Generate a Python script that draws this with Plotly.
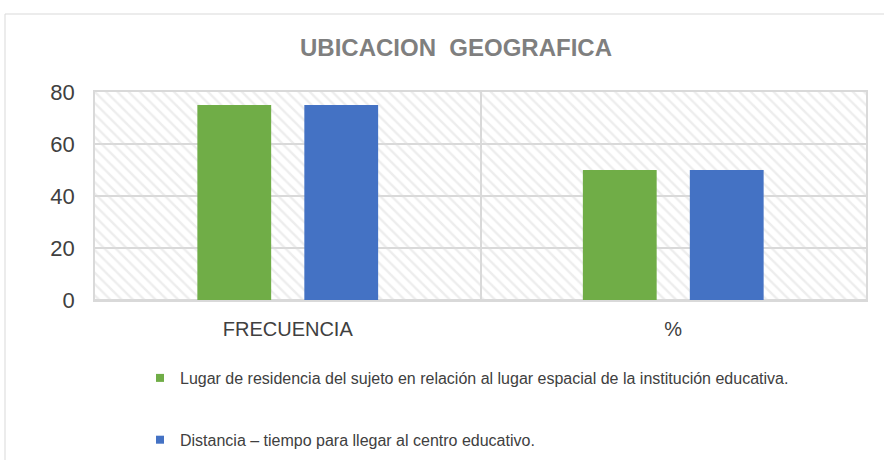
import plotly.graph_objects as go

# --- data ---
categorias = ["FRECUENCIA", "%"]
serie_lugar = [75, 50]
serie_distancia = [75, 50]
nombre_lugar = "Lugar de residencia del sujeto en relación al lugar espacial de la institución educativa."
nombre_distancia = "Distancia – tiempo para llegar al centro educativo."
color_lugar = "#70ad47"
color_distancia = "#4472c4"
y_max = 80

# plot area in pixels (used to place paper-referenced items)
W, H = 884, 460
L, R, T, B = 95, 18, 92, 160
pw, ph = W - L - R, H - T - B


def px_x(x):
    return (x - L) / pw


def px_y(y):
    return (H - B - y) / ph


fig = go.Figure()

# hatched plot background, drawn on the hidden linear x axis
fig.add_trace(go.Bar(
    x=[0.5], y=[y_max], width=[1],
    xaxis="x", yaxis="y",
    marker=dict(
        color="rgba(0,0,0,0)",
        line=dict(width=0),
        pattern=dict(shape="\\", fgcolor="#dcdcdc", bgcolor="rgba(0,0,0,0)",
                     size=8, solidity=0.3),
    ),
    showlegend=False, hoverinfo="skip",
))

for nombre, valores, color, grupo in [
    (nombre_lugar, serie_lugar, color_lugar, "a"),
    (nombre_distancia, serie_distancia, color_distancia, "b"),
]:
    fig.add_trace(go.Bar(
        x=categorias, y=valores, name=nombre,
        xaxis="x2", yaxis="y",
        marker=dict(color=color, line=dict(width=0)),
        legendgroup=grupo, showlegend=False,
    ))
    # small square legend entry, like the original
    fig.add_trace(go.Scatter(
        x=[None], y=[None], mode="markers", name=nombre,
        xaxis="x2", yaxis="y",
        marker=dict(symbol="square", size=8, color=color),
        legendgroup=grupo,
    ))

# outer chart border
fig.add_shape(type="rect", xref="paper", yref="paper",
              x0=px_x(5), x1=px_x(W + 5), y0=px_y(H + 5), y1=px_y(14),
              line=dict(color="#d9d9d9", width=1), layer="below")

fig.update_layout(
    width=W, height=H,
    margin=dict(l=L, r=R, t=T, b=B, autoexpand=False),
    paper_bgcolor="white", plot_bgcolor="white",
    font=dict(family="Liberation Sans, Arial, sans-serif", color="#404040"),
    title=dict(text="<b>UBICACION  GEOGRAFICA</b>", x=456 / W, xanchor="center",
               y=1 - 48 / H, yanchor="middle",
               font=dict(size=24, color="#7f7f7f")),
    barmode="group", bargap=0.445, bargroupgap=0.31,
    xaxis=dict(range=[0, 1], showticklabels=False, tick0=0, dtick=0.5,
               showgrid=True, gridcolor="#d9d9d9", gridwidth=1.5,
               showline=True, mirror=True, linecolor="#d9d9d9", linewidth=1.5,
               zeroline=False, fixedrange=True),
    xaxis2=dict(overlaying="x", side="bottom", type="category",
                range=[-0.5, 1.5], showgrid=False, showline=False,
                tickfont=dict(size=20, color="#404040"),
                ticklabelstandoff=15),
    yaxis=dict(range=[0, y_max], dtick=20, showgrid=True,
               gridcolor="#d9d9d9", gridwidth=1.5,
               zeroline=True, zerolinecolor="#d9d9d9", zerolinewidth=1.5,
               showline=True, mirror=True, linecolor="#d9d9d9", linewidth=1.5,
               tickfont=dict(size=22, color="#404040"),
               ticklabelstandoff=14),
    legend=dict(x=px_x(140), xanchor="left", y=px_y(361), yanchor="top",
                orientation="v", tracegroupgap=38, itemwidth=30,
                font=dict(size=16, color="#404040"),
                bgcolor="rgba(0,0,0,0)"),
)

# drop the page's default body margin so the figure sits at the window corner
fig.write_html("out.html", config={"displayModeBar": False},
               post_script="document.body.style.margin = '0';")
